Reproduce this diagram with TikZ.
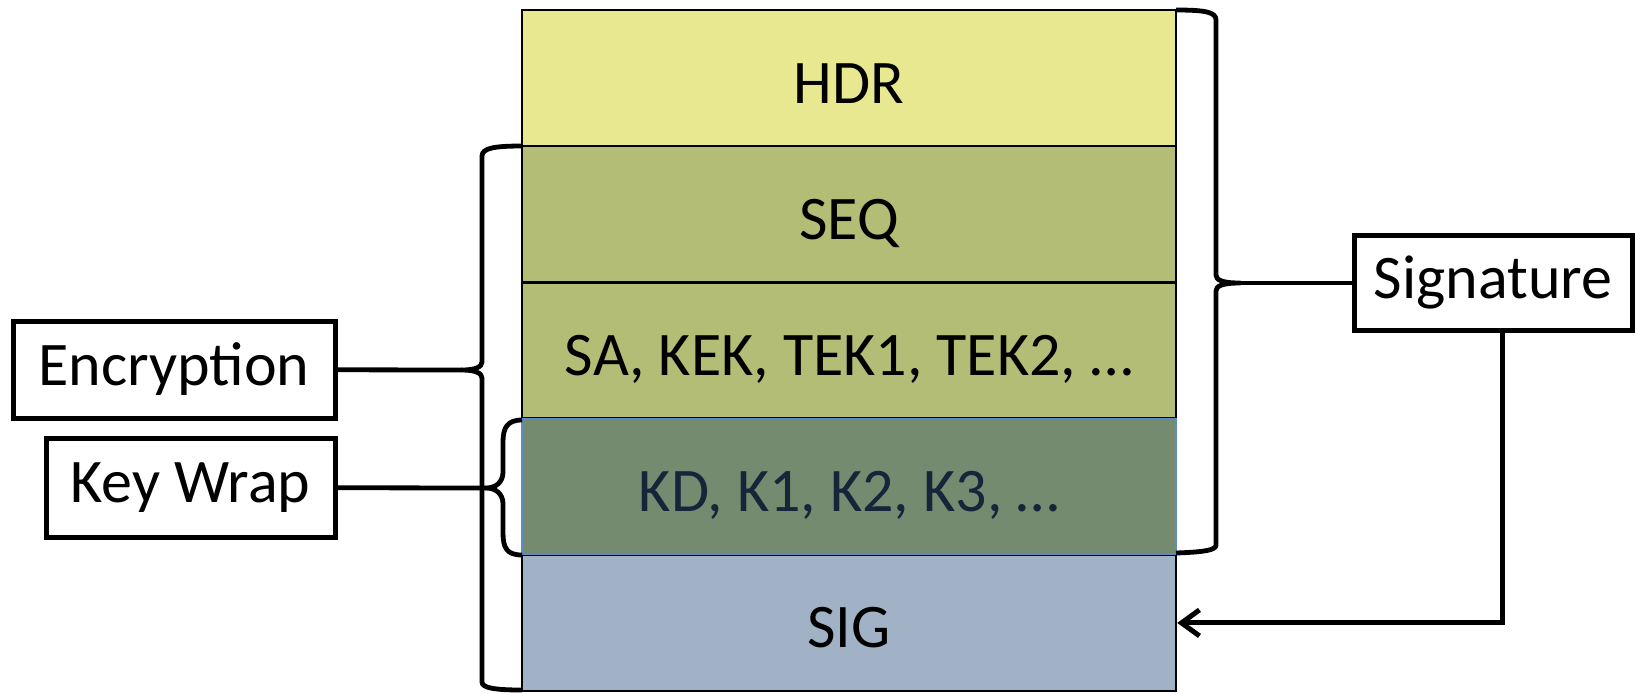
\documentclass[tikz,border=0pt]{standalone}
\usepackage{fontspec}
\setmainfont{Carlito}
\usetikzlibrary{arrows.meta}
\definecolor{hdrcol}{HTML}{E8E891}
\definecolor{seqcol}{HTML}{B4BD76}
\definecolor{kdcol}{HTML}{748B6F}
\definecolor{kdline}{HTML}{5B8BC9}
\definecolor{kdtext}{HTML}{17243A}
\definecolor{sigcol}{HTML}{A2B2C6}
\begin{document}
\begin{tikzpicture}[x=0.5pt,y=-0.5pt,
    font=\fontsize{31}{37}\selectfont,
    field/.style={draw=black,line width=1.2pt,minimum width=327pt,minimum height=68.1pt,inner sep=0pt,text height=25pt,text depth=0pt},
    tagbox/.style={draw=black,line width=2.5pt,inner sep=0pt},
    brace/.style={line width=2.4pt,line join=round}]
    \useasboundingbox (0,0) rectangle (1635,693);
    % the message fields
    \node[field,fill=hdrcol] (hdr) at (849,78.1) {HDR};
    \node[field,fill=seqcol] (seq) at (849,214.3) {SEQ};
    \node[field,fill=seqcol] (sa) at (849,350.5) {SA, KEK, TEK1, TEK2, …};
    \node[field,fill=sigcol] (sig) at (849,622.9) {SIG};
    \node[field,fill=kdcol,draw=kdline,line width=0.6pt,text=kdtext] (kd) at (849,486.7) {KD, K1, K2, K3, …};
    % labels
    \node[tagbox,minimum width=161pt,minimum height=48.5pt] (enc) at (174,369.5) {Encryption};
    \node[tagbox,minimum width=144.5pt,minimum height=49.5pt] (wrap) at (190.5,487.5) {Key Wrap};
    \node[tagbox,minimum width=139pt,minimum height=47.5pt] (sigbox) at (1493,282.5) {Signature};
    % braces
    \coordinate (enctip) at (462,370);
    \coordinate (wraptip) at (486,488);
    \coordinate (sigtip) at (1240,283);
    \draw[brace] (522,146) .. controls (495,146) and (482,148) .. (482,156) -- (482,362)
        .. controls (482,367) and (475,370) .. (enctip)
        .. controls (475,370) and (482,373) .. (482,378) -- (482,682)
        .. controls (482,688) and (495,690) .. (522,690);
    \draw[brace] (522,420) .. controls (507,420) and (503,428) .. (503,442) -- (503,472)
        .. controls (503,482) and (496,488) .. (wraptip)
        .. controls (496,488) and (503,494) .. (503,504) -- (503,533)
        .. controls (503,548) and (507,555) .. (522,555);
    \draw[brace] (1176,10) .. controls (1205,10) and (1216,12) .. (1216,20) -- (1216,275)
        .. controls (1216,280) and (1222,283) .. (sigtip)
        .. controls (1222,283) and (1216,286) .. (1216,291) -- (1216,545)
        .. controls (1216,550) and (1205,552) .. (1176,553);
    % connectors
    \draw[line width=2.4pt] (enc) -- (enctip);
    \draw[line width=2.4pt] (wrap) -- (wraptip);
    \draw[line width=2.4pt] (sigtip) -- (sigtip -| sigbox.west);
    \draw[line width=2.5pt,-{Straight Barb[length=9pt,width=13pt]}] ([xshift=4.5pt]sigbox.south) |- (sig.east);
\end{tikzpicture}
\end{document}
